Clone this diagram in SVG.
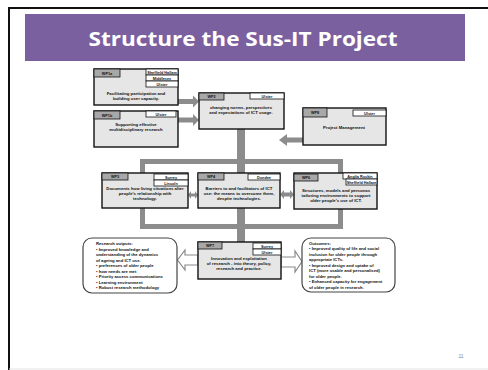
<svg xmlns="http://www.w3.org/2000/svg" width="488" height="370" viewBox="0 0 488 370">
<style>
.box{fill:#e6e6e6;stroke:#111;stroke-width:1.4}
.tab{fill:#a8a8a8;stroke:#111;stroke-width:0.8}
.lab{fill:#fff;stroke:#111;stroke-width:0.8}
.t{font-family:"Liberation Sans",Arial,sans-serif;font-weight:bold;font-size:4.3px;fill:#111;text-anchor:middle}
.s{font-family:"Liberation Sans",Arial,sans-serif;font-weight:bold;font-size:3.8px;fill:#111;text-anchor:middle}
.l{font-family:"Liberation Sans",Arial,sans-serif;font-weight:bold;font-size:4.2px;fill:#111}
.g{fill:#8c8c8c}
.h{fill:#fff;stroke:#8a8a8a;stroke-width:1.2}
.rb{fill:#fff;stroke:#444;stroke-width:1.2}
</style>
<rect x="0" y="0" width="488" height="370" fill="#fff"/>
<path d="M9,370 V8 H488" fill="none" stroke="#111" stroke-width="2"/>
<line x1="9" y1="369" x2="488" y2="369" stroke="#e4e4e4" stroke-width="1"/>
<rect x="25" y="14" width="440" height="47" fill="#7b60a0"/>
<text x="243" y="46" font-family="'Open Sans',Lato,sans-serif" font-weight="bold" font-size="20" fill="#fff" text-anchor="middle" textLength="309" lengthAdjust="spacingAndGlyphs">Structure the Sus-IT Project</text>

<g id="connectors">
  <rect class="g" x="178" y="99" width="15" height="5"/>
  <polygon class="g" points="193,95.5 199,101.5 193,107.5"/>
  <rect class="g" x="178" y="117.5" width="15" height="5"/>
  <polygon class="g" points="193,114 199,120 193,126"/>
  <rect class="g" x="287" y="137.5" width="16" height="5"/>
  <polygon class="g" points="287,134 279,140 287,146"/>
  <rect class="g" x="237" y="129" width="8" height="44"/>
  <rect class="g" x="237" y="208" width="8" height="34"/>
  <rect class="g" x="140" y="159" width="203" height="5"/>
  <rect class="g" x="140" y="224" width="203" height="5"/>
  <rect class="g" x="140" y="159" width="5" height="14"/>
  <rect class="g" x="140" y="208" width="5" height="21"/>
  <rect class="g" x="338" y="159" width="5" height="14"/>
  <rect class="g" x="338" y="209" width="5" height="20"/>
  <polygon class="g" points="188,195 191,191 191,193.5 195,193.5 195,191 198,195 195,199 195,196.5 191,196.5 191,199"/>
  <polygon class="g" points="280,194.5 284,190 284,192.5 290,192.5 290,190 294,194.5 290,199 290,196.5 284,196.5 284,199"/>
  <polygon class="h" points="198,255 185,255 185,250 177.5,260 185,270 185,265 198,265"/>
  <polygon class="h" points="281,257 295,257 295,251 302,261.5 295,272 295,267 281,267"/>
</g>

<g id="wp1a">
  <rect class="box" x="94" y="69" width="84" height="36"/>
  <rect class="tab" x="94" y="69" width="26" height="8"/>
  <text class="s" x="107" y="74.5">WP1a</text>
  <rect class="lab" x="146" y="69" width="32" height="6"/>
  <rect class="lab" x="146" y="75" width="32" height="6"/>
  <rect class="lab" x="146" y="81" width="32" height="6"/>
  <text class="s" x="162" y="73.5">Sheffield Hallam</text>
  <text class="s" x="162" y="79.5">Middlesex</text>
  <text class="s" x="162" y="85.5">Ulster</text>
  <text class="t" x="136" y="95">Facilitating participation and</text>
  <text class="t" x="136" y="100">building user capacity.</text>
</g>

<g id="wp1b">
  <rect class="box" x="94" y="111" width="84" height="36"/>
  <rect class="tab" x="94" y="111" width="26" height="8"/>
  <text class="s" x="107" y="116.5">WP1b</text>
  <rect class="lab" x="146" y="111" width="30" height="6"/>
  <text class="s" x="161" y="115.5">Ulster</text>
  <text class="t" x="136" y="126">Supporting effective</text>
  <text class="t" x="136" y="131">multidisciplinary research</text>
</g>

<g id="wp2">
  <rect class="box" x="199" y="93" width="85" height="36"/>
  <rect class="tab" x="199" y="93" width="25" height="7"/>
  <text class="s" x="211.5" y="98">WP2</text>
  <rect class="lab" x="250" y="93" width="34" height="6"/>
  <text class="s" x="267" y="97.5">Ulster</text>
  <text class="t" x="241" y="109">changing norms, perspectives</text>
  <text class="t" x="241" y="114">and expectations of ICT usage.</text>
</g>

<g id="wp8">
  <rect class="box" x="303" y="108" width="83" height="37"/>
  <rect class="tab" x="303" y="108" width="24" height="9"/>
  <text class="s" x="315" y="114">WP8</text>
  <rect class="lab" x="353" y="110" width="33" height="6"/>
  <text class="s" x="369.5" y="114.5">Ulster</text>
  <text class="t" x="344" y="129">Project Management</text>
</g>

<g id="wp3">
  <rect class="box" x="102" y="173" width="86" height="35"/>
  <rect class="tab" x="102" y="173" width="26" height="7"/>
  <text class="s" x="115" y="178">WP3</text>
  <rect class="lab" x="154" y="174" width="34" height="6"/>
  <rect class="lab" x="154" y="180" width="34" height="6"/>
  <text class="s" x="171" y="178.5">Surrey</text>
  <text class="s" x="171" y="184.5">Lincoln</text>
  <text class="t" x="145" y="190">Documents how living situations alter</text>
  <text class="t" x="145" y="195">people's relationship with</text>
  <text class="t" x="145" y="200">technology.</text>
</g>

<g id="wp4">
  <rect class="box" x="198" y="173" width="82" height="35"/>
  <rect class="tab" x="198" y="173" width="26" height="7"/>
  <text class="s" x="211" y="178">WP4</text>
  <rect class="lab" x="248" y="174" width="32" height="6"/>
  <text class="s" x="264" y="178.5">Dundee</text>
  <text class="t" x="239" y="190">Barriers to and facilitators of ICT</text>
  <text class="t" x="239" y="195">use: the means to overcome them,</text>
  <text class="t" x="239" y="200">despite technologies.</text>
</g>

<g id="wp6">
  <rect class="box" x="294" y="173" width="83" height="36"/>
  <rect class="tab" x="294" y="174" width="24" height="7"/>
  <text class="s" x="306" y="179">WP6</text>
  <rect class="lab" x="343" y="173" width="34" height="6"/>
  <rect class="lab" x="346" y="179" width="31" height="6"/>
  <text class="s" x="360" y="177.5">Anglia Ruskin</text>
  <text class="s" x="361.5" y="183.5">Sheffield Hallam</text>
  <text class="t" x="336" y="192">Structures, models and personas</text>
  <text class="t" x="336" y="197">tailoring environments to support</text>
  <text class="t" x="336" y="202">older people's use of ICT.</text>
</g>

<g id="wp7">
  <rect class="box" x="198" y="242" width="83" height="37"/>
  <rect class="tab" x="198" y="242" width="24" height="7"/>
  <text class="s" x="210" y="247">WP7</text>
  <rect class="lab" x="253" y="243" width="28" height="6"/>
  <rect class="lab" x="253" y="249" width="28" height="6"/>
  <text class="s" x="267" y="247.5">Surrey</text>
  <text class="s" x="267" y="253.5">Ulster</text>
  <text class="t" x="239" y="260">Innovation and exploitation</text>
  <text class="t" x="239" y="265">of research - into theory, policy,</text>
  <text class="t" x="239" y="270">research and practice.</text>
</g>

<g id="research-outputs">
  <rect class="rb" x="83" y="238" width="94" height="55" rx="9"/>
  <text class="l" x="96" y="245">Research outputs:</text>
  <text class="l" x="96" y="250.5">• Improved knowledge and</text>
  <text class="l" x="96" y="256">understanding of the dynamics</text>
  <text class="l" x="96" y="261.5">of ageing and ICT use.</text>
  <text class="l" x="96" y="267">• preferences of older people</text>
  <text class="l" x="96" y="272.5">• how needs are met</text>
  <text class="l" x="96" y="278">• Priority access communications</text>
  <text class="l" x="96" y="283.5">• Learning environment</text>
  <text class="l" x="96" y="289">• Robust research methodology</text>
</g>

<g id="outcomes">
  <rect class="rb" x="302" y="238" width="93" height="54" rx="9"/>
  <text class="l" x="309" y="244.5">Outcomes:</text>
  <text class="l" x="309" y="250">• Improved quality of life and social</text>
  <text class="l" x="309" y="255.5">inclusion for older people through</text>
  <text class="l" x="309" y="261">appropriate ICTs.</text>
  <text class="l" x="309" y="266.5">• Improved design and uptake of</text>
  <text class="l" x="309" y="272">ICT (more usable and personalised)</text>
  <text class="l" x="309" y="277.5">for older people.</text>
  <text class="l" x="309" y="283">• Enhanced capacity for engagement</text>
  <text class="l" x="309" y="288.5">of older people in research.</text>
</g>

<text x="461" y="358" font-family="'Liberation Sans',Arial,sans-serif" font-size="5" fill="#888" text-anchor="middle">11</text>
</svg>
